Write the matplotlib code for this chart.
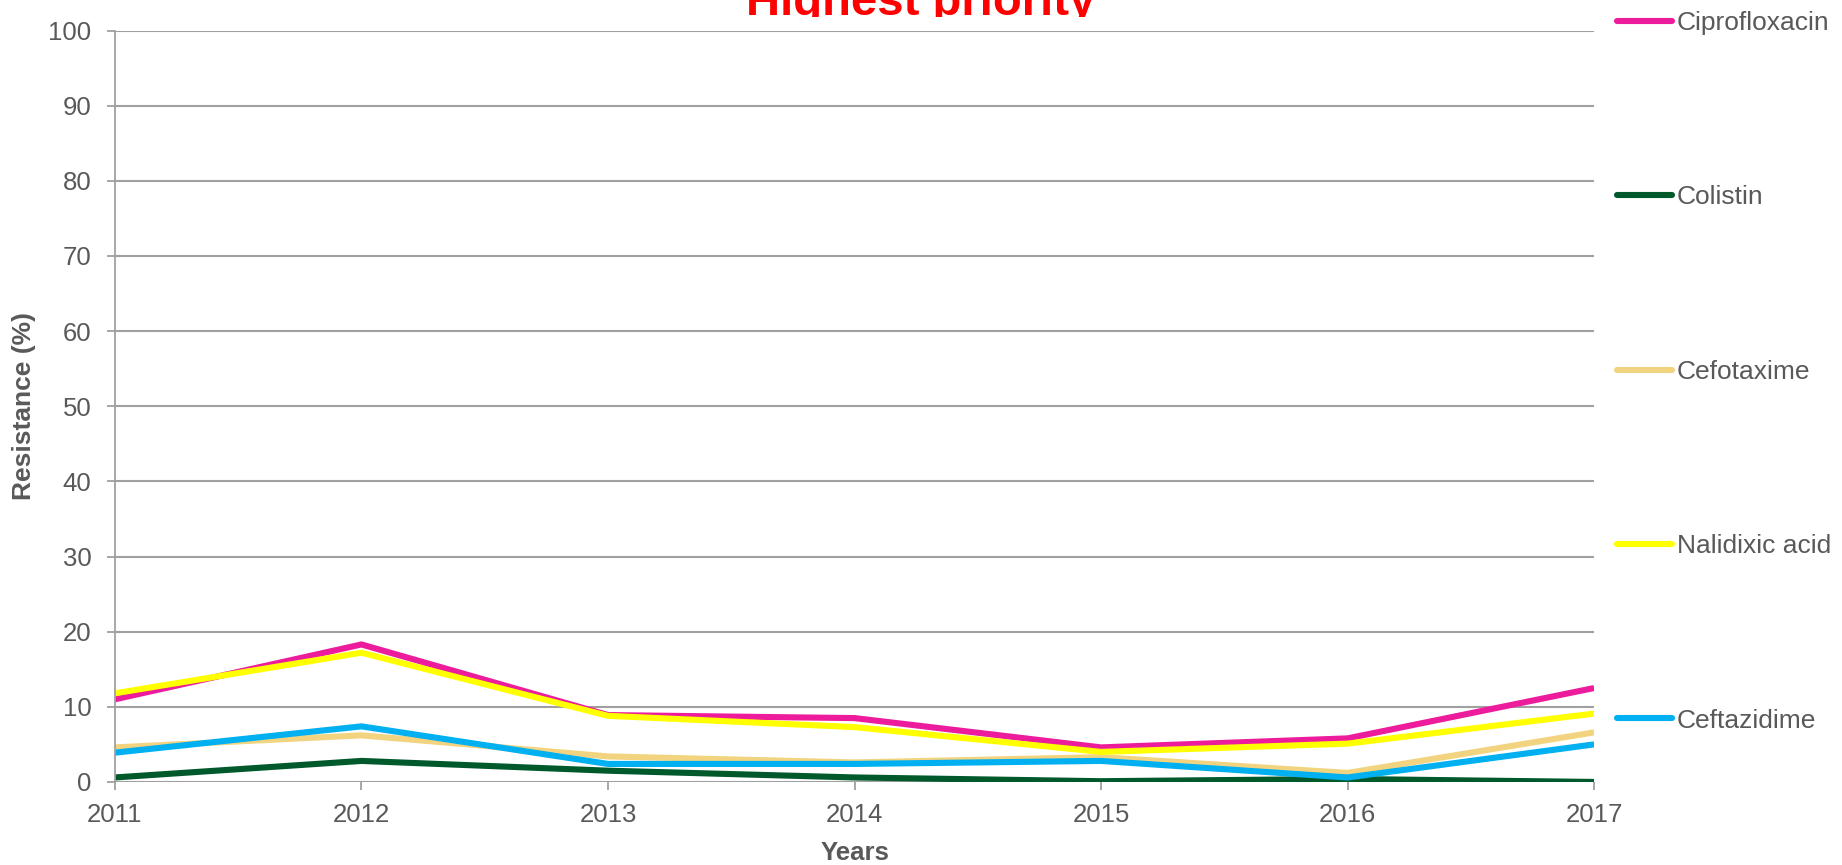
import matplotlib
matplotlib.use("Agg")
import matplotlib.pyplot as plt
from matplotlib.transforms import Bbox, TransformedBbox

plt.rcParams['font.family'] = ['Liberation Sans', 'DejaVu Sans']

years = [2011, 2012, 2013, 2014, 2015, 2016, 2017]
ciprofloxacin = [11.0, 18.3, 8.9, 8.5, 4.6, 5.8, 12.5]
colistin = [0.6, 2.8, 1.5, 0.6, 0.1, 0.4, 0.0]
cefotaxime = [4.6, 6.2, 3.4, 2.6, 3.3, 1.2, 6.6]
nalidixic_acid = [11.8, 17.2, 8.8, 7.3, 4.0, 5.1, 9.1]
ceftazidime = [3.9, 7.4, 2.4, 2.4, 2.8, 0.6, 5.0]

series_names = ['Ciprofloxacin', 'Colistin', 'Cefotaxime', 'Nalidixic acid', 'Ceftazidime']
series_values = [ciprofloxacin, colistin, cefotaxime, nalidixic_acid, ceftazidime]
series_colors = ['#EC1C9C', '#00592B', '#F2D480', '#FFFF00', '#00B0F0']

yticks = list(range(0, 101, 10))
text_gray = '#595959'
grid_gray = '#A0A0A0'

fig = plt.figure(figsize=(18.42, 8.65), dpi=100)
ax = fig.add_axes([0.0624, 0.096, 0.8030, 0.8687])

for name, vals, col in zip(series_names, series_values, series_colors):
    ax.plot(years, vals, color=col, lw=4.4, label=name, solid_capstyle='butt',
            solid_joinstyle='miter')

ax.set_xlim(years[0], years[-1])
ax.set_ylim(0, 100)
ax.set_xticks(years)
ax.set_yticks(yticks)
ax.grid(axis='y', color=grid_gray, lw=1.5)
ax.set_axisbelow(True)

for side in ('top', 'right', 'bottom'):
    ax.spines[side].set_visible(False)
ax.spines['left'].set_color(grid_gray)
ax.spines['left'].set_linewidth(1.3)

ax.tick_params(axis='y', colors=grid_gray, labelcolor=text_gray, labelsize=18.5,
               length=6, width=1.3, pad=11)
ax.tick_params(axis='x', colors=grid_gray, labelcolor=text_gray, labelsize=18.5,
               length=6, width=1.3, pad=9)

ax.set_ylabel('Resistance (%)', fontsize=19, fontweight='bold', color=text_gray)
ax.yaxis.label.set_va('center')
ax.yaxis.set_label_coords(-0.0615, 0.5)
ax.set_xlabel('Years', fontsize=18.5, fontweight='bold', color=text_gray)
ax.xaxis.label.set_va('center')
ax.xaxis.set_label_coords(0.5, -0.0944)

# Title sits above the canvas edge; its lower part is cut by the chart frame
title = fig.text(0.5, 1 - 15 / 865, 'Highest priority', ha='center', va='baseline',
                 fontsize=34, fontweight='bold', color='#FF0000')
title.set_clip_box(TransformedBbox(Bbox([[0, 1 - 17 / 865], [1, 1]]), fig.transFigure))
title.set_clip_on(True)

leg = fig.legend(loc='upper left', bbox_to_anchor=(0.8779, 0.9873), frameon=False,
                 fontsize=19, labelspacing=5.70, handlelength=2.08,
                 handletextpad=0.19, borderpad=0, borderaxespad=0)
for t in leg.get_texts():
    t.set_color(text_gray)
for h in leg.legend_handles:
    h.set_linewidth(4.4)
    h.set_solid_capstyle('round')

fig.savefig('out.png', dpi=100)
